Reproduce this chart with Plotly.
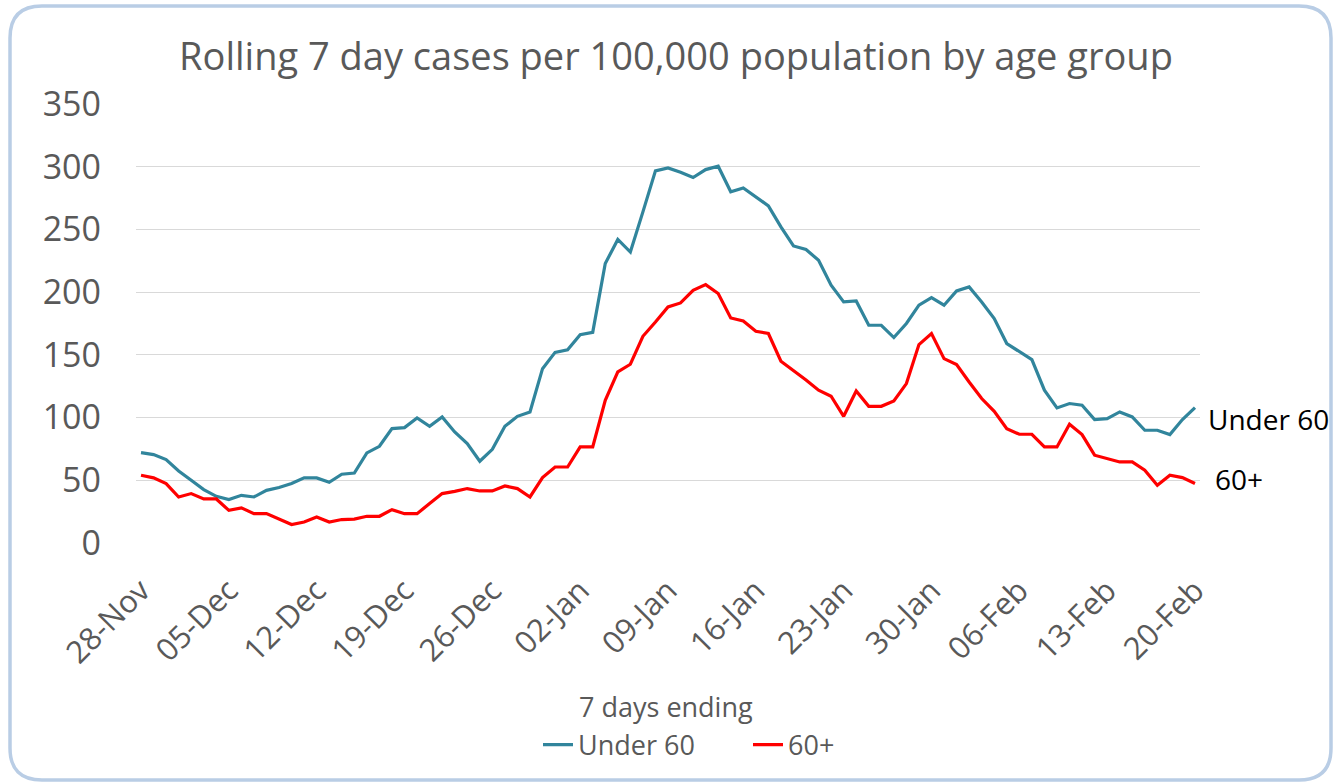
import pandas as pd
import plotly.graph_objects as go

dates = pd.date_range("2020-11-28", "2021-02-20", freq="D")

under60 = [72, 70.5, 66.5, 57.4, 50, 42.6, 37.2, 34.6, 38, 36.7,
           42, 44.2, 47.4, 51.9, 51.9, 48.4, 54.8, 55.8, 71.8, 77.1,
           91.2, 92, 99.7, 93, 100.5, 88.5, 79.3, 65.2, 74.7, 93,
           101, 104.5, 139, 152, 154, 166, 168, 222.8, 242, 232,
           264, 296.7, 299, 295.6, 291.4, 297.7, 300.4, 280, 283, 276,
           268.8, 252, 236.8, 234, 225.4, 205.5, 192.2, 193, 173.6, 173.6,
           163.8, 175, 189.6, 195.7, 189.6, 201, 204.2, 192.2, 179, 159,
           152.9, 146.2, 121.8, 107.7, 111.2, 109.8, 98.4, 99.2, 104.5, 100.5,
           89.9, 89.9, 86.4, 98.4, 108]

over60 = [54, 51.9, 47.4, 36.7, 39.4, 35.1, 35.1, 26, 28, 23.4,
          23.4, 18.7, 14.7, 16.7, 20.7, 16.7, 18.7, 19.1, 21.3, 21.3,
          26.6, 23.4, 23.4, 31.4, 39.4, 41.2, 43.4, 41.5, 41.5, 45.5,
          43.4, 36.7, 52.1, 60.6, 60.6, 76.6, 76.6, 113.8, 136.4, 142.5,
          164.8, 176.2, 188.2, 191.4, 201.5, 206, 198.9, 179.4, 177, 168.8,
          167, 144.9, 137.7, 130, 121.8, 117, 101, 121.2, 109, 109,
          113.2, 127.1, 158.2, 167, 147, 142.3, 128.4, 115.2, 105, 91.2,
          86.7, 86.7, 76.6, 76.6, 94.7, 86.4, 70, 67.3, 64.6, 64.6,
          58, 46, 54, 52.1, 47.4]

tick_dates = ["2020-11-28", "2020-12-05", "2020-12-12", "2020-12-19", "2020-12-26",
              "2021-01-02", "2021-01-09", "2021-01-16", "2021-01-23", "2021-01-30",
              "2021-02-06", "2021-02-13", "2021-02-20"]
y_ticks = [0, 50, 100, 150, 200, 250, 300, 350]

FONT = "Open Sans"
GREY = "#595959"
TEAL = "#31859C"
RED = "#FF0000"

# plot area in pixels
L, R, T, B = 136, 1200, 104, 543
W, H = 1334, 783


def px(x):
    return (x - L) / (R - L)


def py(y):
    return (B - y) / (B - T)


fig = go.Figure()
fig.add_trace(go.Scatter(x=dates, y=under60, mode="lines", name="Under 60",
                         line=dict(color=TEAL, width=3.2)))
fig.add_trace(go.Scatter(x=dates, y=over60, mode="lines", name="60+",
                         line=dict(color=RED, width=3.2)))

# rounded border
x0, y0, x1, y1, r = 10, 6, 1331, 780, 32
pts = [("M", [(x0 + r, y0)]), ("L", [(x1 - r, y0)]), ("Q", [(x1, y0), (x1, y0 + r)]),
       ("L", [(x1, y1 - r)]), ("Q", [(x1, y1), (x1 - r, y1)]), ("L", [(x0 + r, y1)]),
       ("Q", [(x0, y1), (x0, y1 - r)]), ("L", [(x0, y0 + r)]), ("Q", [(x0, y0), (x0 + r, y0)])]
path = " ".join(c + " " + " ".join(f"{px(a):.5f},{py(b):.5f}" for a, b in p) for c, p in pts) + " Z"
fig.add_shape(type="path", path=path, xref="paper", yref="paper",
              line=dict(color="#B9CDE5", width=3.5), layer="below")

fig.add_annotation(text="7 days ending", x=px(666), y=py(706), xref="paper", yref="paper",
                   showarrow=False, xanchor="center", yanchor="middle",
                   font=dict(family=FONT, size=27, color=GREY))
fig.add_annotation(text="Under 60", x=px(1206), y=py(419), xref="paper", yref="paper",
                   showarrow=False, xanchor="left", yanchor="middle",
                   font=dict(family=FONT, size=28, color="#000000"))
fig.add_annotation(text="60+", x=px(1213), y=py(479), xref="paper", yref="paper",
                   showarrow=False, xanchor="left", yanchor="middle",
                   font=dict(family=FONT, size=28, color="#000000"))

fig.update_layout(
    width=W, height=H,
    margin=dict(l=L, r=W - R, t=T, b=H - B, autoexpand=False),
    paper_bgcolor="white", plot_bgcolor="white",
    title=dict(text="Rolling 7 day cases per 100,000 population by age group",
               x=676 / W, xanchor="center", y=1 - 57 / H, yanchor="middle",
               font=dict(family=FONT, size=38, color=GREY)),
    showlegend=True,
    legend=dict(orientation="h", x=px(748), xanchor="center", y=py(745), yanchor="middle",
                font=dict(family=FONT, size=27, color=GREY), bgcolor="rgba(0,0,0,0)",
                entrywidth=165, itemwidth=30, tracegroupgap=0),
    font=dict(family=FONT, color=GREY),
)
fig.update_xaxes(range=["2020-11-27 14:24", "2021-02-20 09:36"], tickvals=tick_dates,
                 tickformat="%d-%b", tickangle=-45, showgrid=False, zeroline=False,
                 showline=False, ticks="", ticklabelstandoff=22,
                 tickfont=dict(family=FONT, size=31, color=GREY))
fig.update_yaxes(range=[0, 350], tickvals=y_ticks, showgrid=True, gridcolor="#D9D9D9",
                 gridwidth=1, zeroline=False, showline=False, ticks="",
                 ticklabelstandoff=34,
                 tickfont=dict(family=FONT, size=34, color=GREY))

fig.write_html("out.html", config={"displayModeBar": False},
               post_script="document.body.style.margin='0';")
